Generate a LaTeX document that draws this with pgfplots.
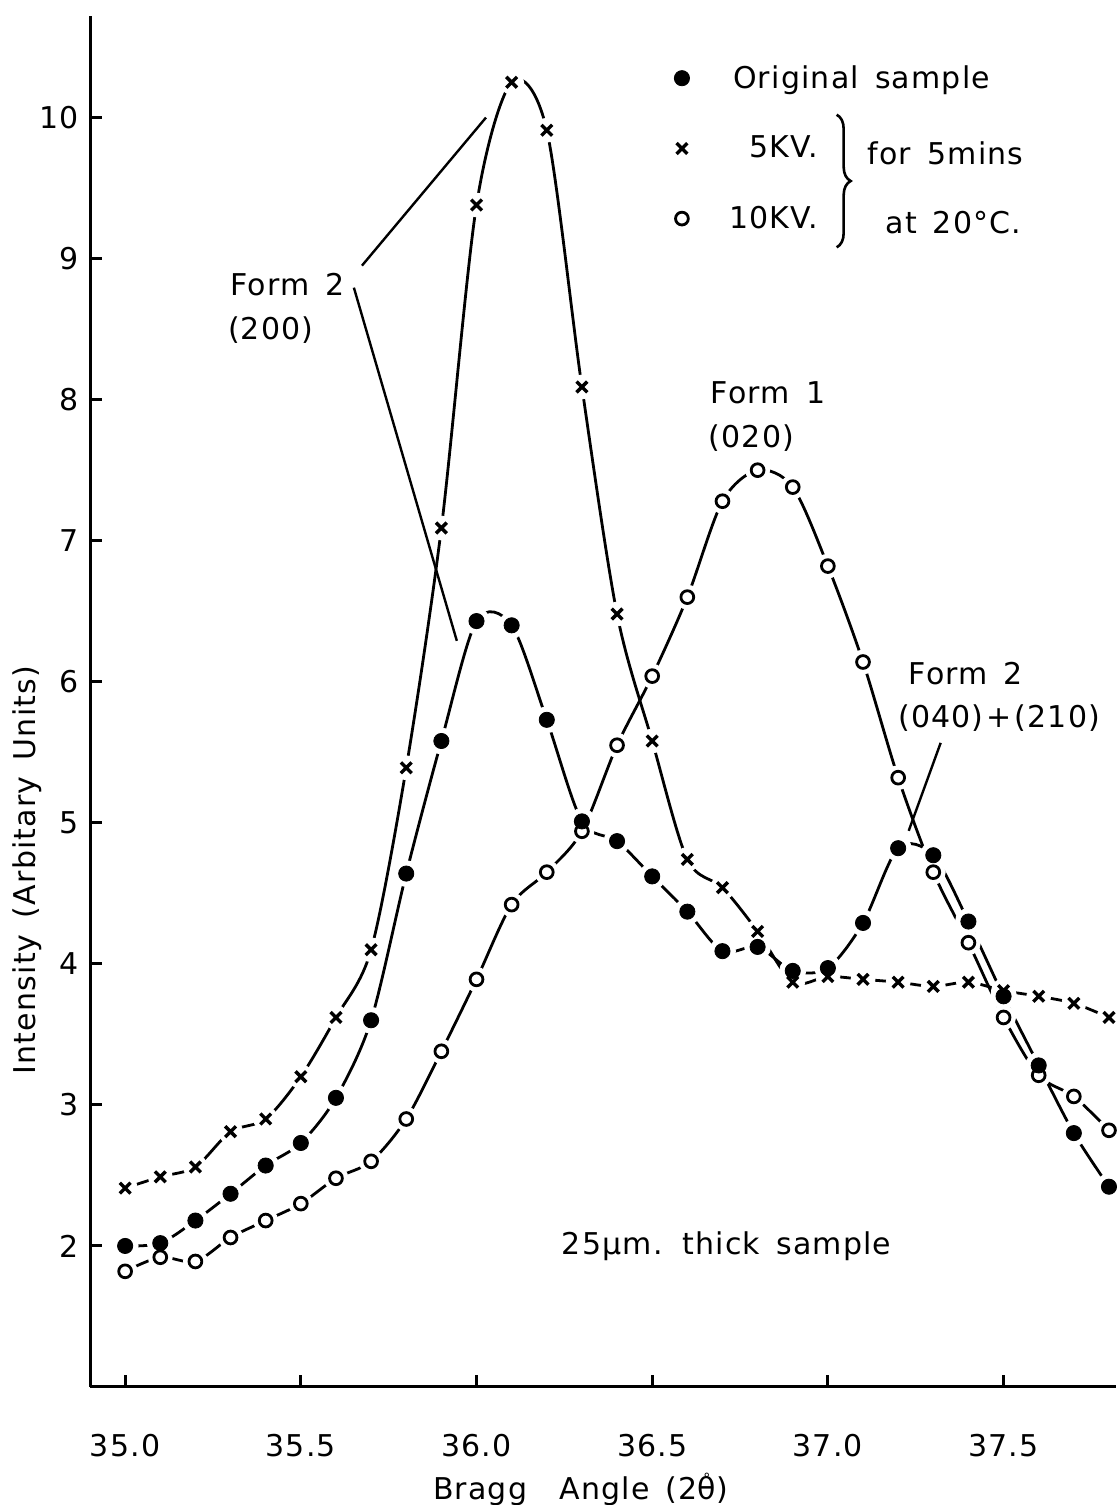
\documentclass[border=0pt]{standalone}
\usepackage{pgfplots}
\pgfplotsset{compat=1.18}
\usepackage{pgfplotstable}
\usetikzlibrary{decorations.pathreplacing}
\usepackage{fontspec}
\setmainfont{DejaVu Sans}[LetterSpace=4,WordSpace=1.5]

\pgfplotstableread{
x    orig  kvfive kvten
35.0 2.00  2.41  1.82
35.1 2.02  2.49  1.92
35.2 2.18  2.56  1.89
35.3 2.37  2.81  2.06
35.4 2.57  2.90  2.18
35.5 2.73  3.20  2.30
35.6 3.05  3.62  2.48
35.7 3.60  4.10  2.60
35.8 4.64  5.39  2.90
35.9 5.58  7.09  3.38
36.0 6.43  9.38  3.89
36.1 6.40  10.25 4.42
36.2 5.73  9.91  4.65
36.3 5.01  8.09  4.94
36.4 4.87  6.48  5.55
36.5 4.62  5.58  6.04
36.6 4.37  4.74  6.60
36.7 4.09  4.54  7.28
36.8 4.12  4.23  7.50
36.9 3.95  3.87  7.38
37.0 3.97  3.91  6.82
37.1 4.29  3.89  6.14
37.2 4.82  3.87  5.32
37.3 4.77  3.84  4.65
37.4 4.30  3.87  4.15
37.5 3.77  3.81  3.62
37.6 3.28  3.77  3.21
37.7 2.80  3.72  3.06
37.8 2.42  3.62  2.82
}\data

\begin{document}
\begin{tikzpicture}[font=\fontsize{15}{18}\selectfont]
\useasboundingbox (0,0) rectangle (558pt,752.5pt);
\begin{axis}[
  at={(45pt,59pt)}, anchor=south west,
  scale only axis, width=513pt, height=685.5pt,
  xmin=34.9, xmax=37.82, ymin=1, ymax=10.72,
  axis x line*=bottom, axis y line*=left,
  axis line style={line width=1.5pt,-},
  tick pos=left,
  xtick={35,35.5,36,36.5,37,37.5},
  ytick={2,3,4,5,6,7,8,9,10},
  tick align=inside, major tick length=6pt,
  tick style={line width=1.5pt, black},
  minor tick num=0,
  /pgf/number format/assume math mode=true,
  x tick label style={/pgf/number format/fixed, /pgf/number format/fixed zerofill, /pgf/number format/precision=1, anchor=center, yshift=-29.5pt},
  y tick label style={anchor=east, xshift=-2pt},
  xlabel={Bragg\ \ Angle\ (2\ooalign{θ\cr\hidewidth\raisebox{0.52em}{\scriptsize °}\hidewidth\cr})},
  ylabel={Intensity (Arbitary Units)},
  x label style={at={(axis description cs:0.478,-0.082)}, anchor=base},
  y label style={at={(axis description cs:-0.0614,0.377)}, rotate=0, anchor=center},
  clip=false,
  legend style={at={(axis cs:36.513,10.43)}, anchor=north west, draw=none, fill=none, row sep=18.5pt},
  legend cell align=left,
  legend image code/.code={\draw[#1,only marks] plot coordinates {(0.3cm,0cm)}; \path (0cm,0cm) (1.1cm,0cm);},
]
% lines
\addplot[forget plot, black, line width=1.4pt, smooth, mark=none] table[x=x,y=orig] {\data};
\addplot[forget plot, black, line width=1.4pt, smooth, mark=none] table[x=x,y=kvfive] {\data};
\addplot[forget plot, black, line width=1.4pt, smooth, mark=none] table[x=x,y=kvten] {\data};
% white gaps around markers
\addplot[forget plot, only marks, mark=*, mark size=6.5pt, mark options={draw=white, fill=white}] table[x=x,y=orig] {\data};
\addplot[forget plot, only marks, mark=*, mark size=6pt, mark options={draw=white, fill=white}] table[x=x,y=kvfive] {\data};
\addplot[forget plot, only marks, mark=*, mark size=6pt, mark options={draw=white, fill=white}] table[x=x,y=kvten] {\data};
% markers
\addplot[only marks, mark=*, mark size=3.8pt, black] table[x=x,y=orig] {\data};
\addlegendentry{Original sample}
\addplot[only marks, mark=x, mark size=3.8pt, black, line width=1.7pt] table[x=x,y=kvfive] {\data};
\addlegendentry{\makebox[42.5pt][r]{5KV.}}
\addplot[only marks, mark=o, mark size=3.2pt, black, line width=1.4pt] table[x=x,y=kvten] {\data};
\addlegendentry{\makebox[42.5pt][r]{10KV.}}

% brace and legend side text
\draw[decorate, decoration={brace, amplitude=7pt}, line width=1.3pt] (axis cs:37.025,10.02) -- (axis cs:37.025,9.08);
\node[anchor=west] at (axis cs:37.093,9.745) {for 5mins};
\node[anchor=west] at (axis cs:37.144,9.255) {at 20°C.};

% annotations
\node[anchor=west] at (axis cs:35.28,8.816) {Form 2};
\node[anchor=west] at (axis cs:35.273,8.49) {(200)};
\draw[line width=1.2pt] (axis cs:35.674,8.95) -- (axis cs:36.027,10.0);
\draw[line width=1.2pt] (axis cs:35.651,8.794) -- (axis cs:35.944,6.29);
\node[anchor=west] at (axis cs:36.647,8.05) {Form 1};
\node[anchor=west] at (axis cs:36.641,7.73) {(020)};
\node[anchor=west] at (axis cs:37.21,6.057) {Form 2};
\node[anchor=west] at (axis cs:37.18,5.74) {(040)\kern1.5pt+\kern1.5pt(210)};
\draw[line width=1.2pt] (axis cs:37.321,5.567) -- (axis cs:37.23,4.943);
\node at (axis cs:36.712,2.0) {25µm. thick sample};
\end{axis}
\end{tikzpicture}
\end{document}
